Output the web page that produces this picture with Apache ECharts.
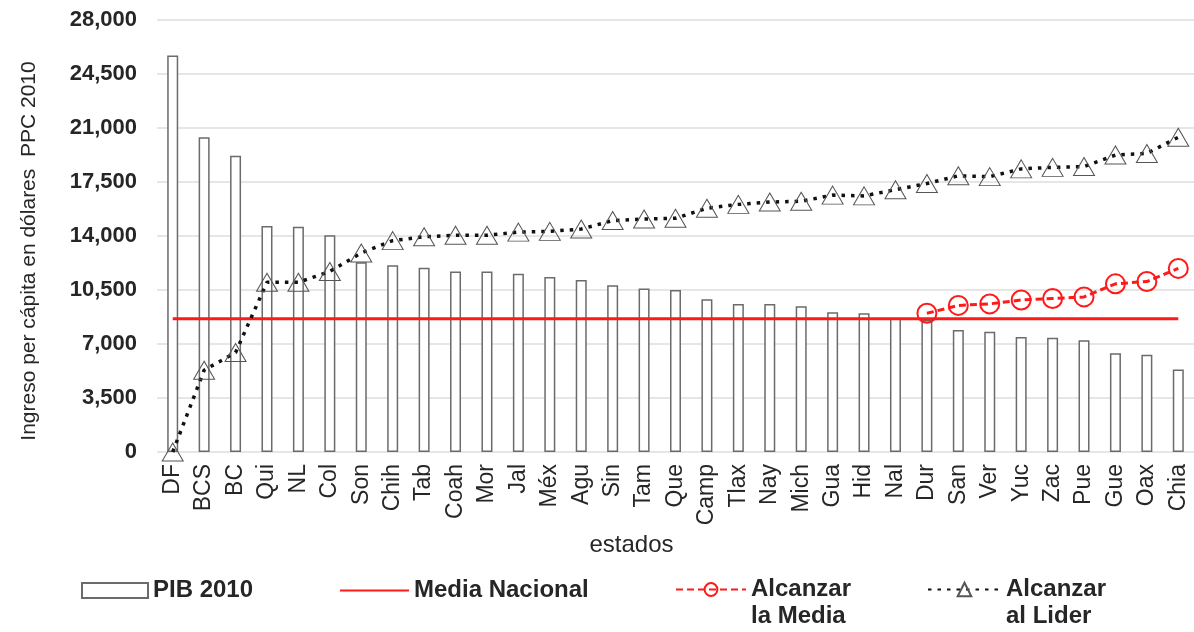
<!DOCTYPE html>
<html>
<head>
<meta charset="utf-8">
<script src="https://cdn.jsdelivr.net/npm/echarts@6/dist/echarts.min.js"></script>
<style>
html,body{margin:0;padding:0;background:#fff;}
#chart{width:1194px;height:632px;}
</style>
</head>
<body>
<div id="chart"></div>
<script>
var categories = ['DF','BCS','BC','Qui','NL','Col','Son','Chih','Tab','Coah','Mor','Jal','Méx','Agu','Sin','Tam','Que','Camp','Tlax','Nay','Mich','Gua','Hid','Nal','Dur','San','Ver','Yuc','Zac','Pue','Gue','Oax','Chia'];
var pib2010 = [25700,20400,19200,14650,14600,14050,12300,12100,11950,11700,11700,11550,11350,11150,10800,10600,10500,9900,9600,9600,9450,9050,9000,8650,8550,7900,7800,7450,7400,7250,6400,6300,5350];
var mediaNacional = [8630,8630,8630,8630,8630,8630,8630,8630,8630,8630,8630,8630,8630,8630,8630,8630,8630,8630,8630,8630,8630,8630,8630,8630,8630,8630,8630,8630,8630,8630,8630,8630,8630];
var alcanzarMedia = [null,null,null,null,null,null,null,null,null,null,null,null,null,null,null,null,null,null,null,null,null,null,null,null,8990,9500,9600,9850,9950,10050,10900,11050,11900];
var alcanzarLider = [0,5300,6450,11000,11000,11700,12900,13700,13950,14050,14050,14250,14300,14450,15000,15100,15150,15800,16050,16200,16250,16650,16600,17000,17400,17900,17850,18350,18450,18500,19250,19350,20400];
var yTicks = {min:0, max:28000, interval:3500};

var FONT = '"Liberation Sans", Arial, sans-serif';
var TXT = '#262626';
var chart = echarts.init(document.getElementById('chart'));

function legendBase(left, name, w, h, extra){
  var lg = {
    left:left, top:577, padding:0, itemGap:0,
    itemWidth:w, itemHeight:h,
    data:[name],
    formatter: function(n){
      if (n === 'Alcanzar la Media') return '\nAlcanzar\nla Media';
      if (n === 'Alcanzar al Lider') return '\nAlcanzar\nal Lider';
      return n;
    },
    textStyle:{fontFamily:FONT, fontSize:24, fontWeight:'bold', color:TXT, lineHeight:27},
    selectedMode:false
  };
  if (extra) { for (var k in extra) lg[k] = extra[k]; }
  return lg;
}

chart.setOption({
  animation:false,
  backgroundColor:'#fff',
  grid:{left:157, right:-4, top:20, bottom:180, containLabel:false},
  legend:[
    legendBase(81,'PIB 2010',66,15,{icon:'rect'}),
    legendBase(339,'Media Nacional',69,18,{itemStyle:{opacity:0}}),
    legendBase(675,'Alcanzar la Media',70,16,{top:549}),
    legendBase(927,'Alcanzar al Lider',73,17,{top:549})
  ],
  xAxis:{
    type:'category', data:categories, boundaryGap:true,
    name:'estados', nameLocation:'middle', nameGap:78,
    nameTextStyle:{fontFamily:FONT, fontSize:24, color:TXT, padding:[0,88,0,0]},
    axisLine:{show:false}, axisTick:{show:false},
    axisLabel:{rotate:90, interval:0, margin:12, fontFamily:FONT, fontSize:23, color:TXT}
  },
  yAxis:{
    type:'value', min:yTicks.min, max:yTicks.max, interval:yTicks.interval,
    name:'Ingreso per cápita en dólares  PPC 2010', nameLocation:'middle', nameGap:117,
    nameTextStyle:{fontFamily:FONT, fontSize:21, color:TXT, padding:[0,30,0,0]},
    axisLine:{show:false}, axisTick:{show:false},
    splitLine:{lineStyle:{color:'#e6e6e6', width:2}},
    axisLabel:{margin:20, fontFamily:FONT, fontSize:22, fontWeight:'bold', color:TXT,
      formatter:function(v){ return v.toLocaleString('en-US'); }}
  },
  series:[
    {name:'PIB 2010', type:'bar', data:pib2010, barWidth:11,
      itemStyle:{color:'#ffffff', borderColor:'#6b6b6b', borderWidth:1.5}},
    {name:'Media Nacional', type:'line', data:mediaNacional, symbol:'none',
      itemStyle:{color:'#ff1a1a'}, lineStyle:{color:'#ff1a1a', width:3}},
    {name:'Alcanzar la Media', type:'line', data:alcanzarMedia, symbol:'circle', symbolSize:19,
      itemStyle:{color:'rgba(255,255,255,0)', borderColor:'#ff1a1a', borderWidth:2},
      lineStyle:{color:'#ff1a1a', width:3, type:[7,4]}},
    {name:'Alcanzar al Lider', type:'line', data:alcanzarLider, symbol:'triangle', symbolSize:[21,18],
      itemStyle:{color:'rgba(255,255,255,0)', borderColor:'#555', borderWidth:1},
      lineStyle:{color:'#111', width:3.5, type:[3.5,6]}}
  ]
});
</script>
</body>
</html>
